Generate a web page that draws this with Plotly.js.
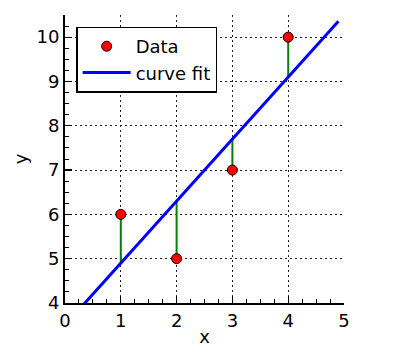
<!DOCTYPE html>
<html>
<head>
<meta charset="utf-8">
<script src="https://cdn.plot.ly/plotly-3.0.1.min.js"></script>
<style>html,body{margin:0;padding:0;background:#fff;}#chart{width:399px;height:359px;}</style>
</head>
<body>
<div id="chart"></div>
<script>
// Data points
const dataX = [1, 2, 3, 4];
const dataY = [6, 5, 7, 10];
// Fitted curve values at the data x positions
const fitAtData = [4.9, 6.3, 7.7, 9.1];
// Curve fit line endpoints
const fitX = [0, 4.9];
const fitY = [3.5, 10.36];

const traces = [];
// residual segments
for (let i = 0; i < dataX.length; i++) {
  traces.push({
    x: [dataX[i], dataX[i]], y: [dataY[i], fitAtData[i]],
    mode: 'lines', line: {color: '#008000', width: 2},
    showlegend: false, hoverinfo: 'skip'
  });
}
traces.push({
  x: fitX, y: fitY, mode: 'lines', name: 'curve fit',
  line: {color: '#0000ff', width: 3}
});
traces.push({
  x: dataX, y: dataY, mode: 'markers', name: 'Data',
  marker: {color: '#ff0000', size: 10, line: {color: '#000000', width: 1}}
});

const font = {family: 'DejaVu Sans', size: 18, color: '#000'};
const gridStyle = {showgrid: true, gridcolor: '#222', griddash: '1.5px,3.5px', gridwidth: 1};
const layout = {
  width: 399, height: 359,
  margin: {l: 65, r: 55, t: 15, b: 56},
  paper_bgcolor: '#fff', plot_bgcolor: '#fff',
  font: font,
  showlegend: true,
  legend: {
    x: 0.04, y: 0.96, xanchor: 'left', yanchor: 'top',
    bordercolor: '#000', borderwidth: 1.5, bgcolor: '#fff',
    font: font,
    traceorder: 'reversed', itemwidth: 48, tracegroupgap: 0
  },
  xaxis: Object.assign({
    range: [0, 5], dtick: 1, tick0: 0,
    showline: true, linecolor: '#000', linewidth: 2,
    ticks: 'inside', ticklen: 7, tickwidth: 1.3, tickcolor: '#000',
    minor: {ticks: 'inside', dtick: 0.25, ticklen: 4, tickwidth: 1, tickcolor: '#000', showgrid: false},
    zeroline: false,
    tickfont: font,
    title: {text: 'x', font: font, standoff: 1}
  }, gridStyle),
  yaxis: Object.assign({
    range: [4, 10.5], dtick: 1, tick0: 4,
    showline: true, linecolor: '#000', linewidth: 2,
    ticks: 'inside', ticklen: 7, tickwidth: 1.3, tickcolor: '#000',
    minor: {ticks: 'inside', dtick: 0.25, ticklen: 4, tickwidth: 1, tickcolor: '#000', showgrid: false},
    zeroline: false,
    tickfont: font,
    title: {text: 'y', font: font, standoff: 4}
  }, gridStyle)
};
Plotly.newPlot('chart', traces, layout, {staticPlot: true, displayModeBar: false});
</script>
</body>
</html>
